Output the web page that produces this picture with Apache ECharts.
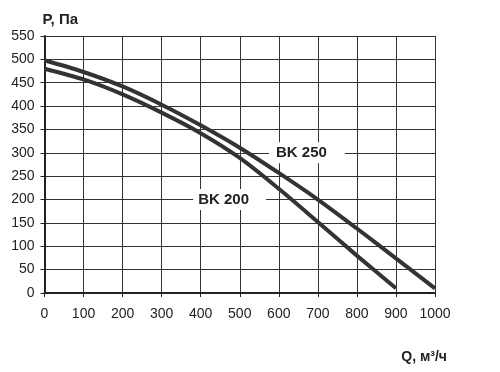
<!DOCTYPE html>
<html>
<head>
<meta charset="utf-8">
<script src="https://cdn.jsdelivr.net/npm/echarts@6/dist/echarts.min.js"></script>
<style>html,body{margin:0;padding:0;background:#fff}#c{width:500px;height:372px}</style>
</head>
<body>
<div id="c"></div>
<script>
var qValues = [0, 100, 200, 300, 400, 500, 600, 700, 800, 900, 1000];
var bk250 = [498, 473, 442, 403, 359, 311, 257, 200, 138, 74, 10];
var bk200 = [480, 457, 425, 386, 342, 289, 223, 152, 80, 10];
var labels = [
  {name: 'BK 250', coord: [672, 300]},
  {name: 'BK 200', coord: [474, 200]}
];

function pairs(xs, ys) { return ys.map(function (y, i) { return [xs[i], y]; }); }

var chart = echarts.init(document.getElementById('c'), null, {renderer: 'canvas'});
var font = 'Liberation Sans, Arial, Helvetica, sans-serif';
chart.setOption({
  animation: false,
  grid: {left: 44.5, right: 65, top: 36, bottom: 79},
  xAxis: {
    type: 'value', min: 0, max: 1000, interval: 100,
    name: 'Q, м³/ч', nameLocation: 'end', nameGap: 12,
    nameTextStyle: {fontFamily: font, fontSize: 14, fontWeight: 'bold', color: '#222', align: 'right', verticalAlign: 'top', padding: [57, 0, 0, 0]},
    axisLine: {show: true, onZero: false, lineStyle: {color: '#222', width: 2}},
    axisTick: {show: true, length: 4, lineStyle: {color: '#222', width: 1}},
    axisLabel: {fontFamily: font, fontSize: 14, color: '#222', margin: 14, formatter: function (v) { return String(v); }},
    splitLine: {show: true, lineStyle: {color: '#333', width: 1}}
  },
  yAxis: {
    type: 'value', min: 0, max: 550, interval: 50,
    name: 'P, Па', nameLocation: 'end', nameGap: 9,
    nameTextStyle: {fontFamily: font, fontSize: 15, fontWeight: 'bold', color: '#222', align: 'left', padding: [0, 0, 0, -2]},
    axisLine: {show: true, lineStyle: {color: '#222', width: 2}},
    axisTick: {show: true, length: 4, lineStyle: {color: '#222', width: 1}},
    axisLabel: {fontFamily: font, fontSize: 14, color: '#222', margin: 10},
    splitLine: {show: true, lineStyle: {color: '#333', width: 1}}
  },
  series: [
    {
      type: 'line', name: 'BK 250', data: pairs(qValues, bk250), smooth: 0.3,
      symbol: 'none', lineStyle: {color: '#333', width: 4}, z: 3,
      markPoint: {
        symbol: 'rect', symbolSize: 1, itemStyle: {color: 'rgba(0,0,0,0)'},
        label: {show: true, formatter: '{b}', fontFamily: font, fontSize: 15, fontWeight: 'bold', color: '#222', backgroundColor: '#fff', padding: [3, 18, 3, 7], position: 'inside'},
        data: [labels[0]]
      }
    },
    {
      type: 'line', name: 'BK 200', data: pairs(qValues, bk200), smooth: 0.3,
      symbol: 'none', lineStyle: {color: '#333', width: 4}, z: 3,
      markPoint: {
        symbol: 'rect', symbolSize: 1, itemStyle: {color: 'rgba(0,0,0,0)'},
        label: {show: true, formatter: '{b}', fontFamily: font, fontSize: 15, fontWeight: 'bold', color: '#222', backgroundColor: '#fff', padding: [3, 17, 3, 5], position: 'inside'},
        data: [labels[1]]
      }
    }
  ]
});
</script>
</body>
</html>
